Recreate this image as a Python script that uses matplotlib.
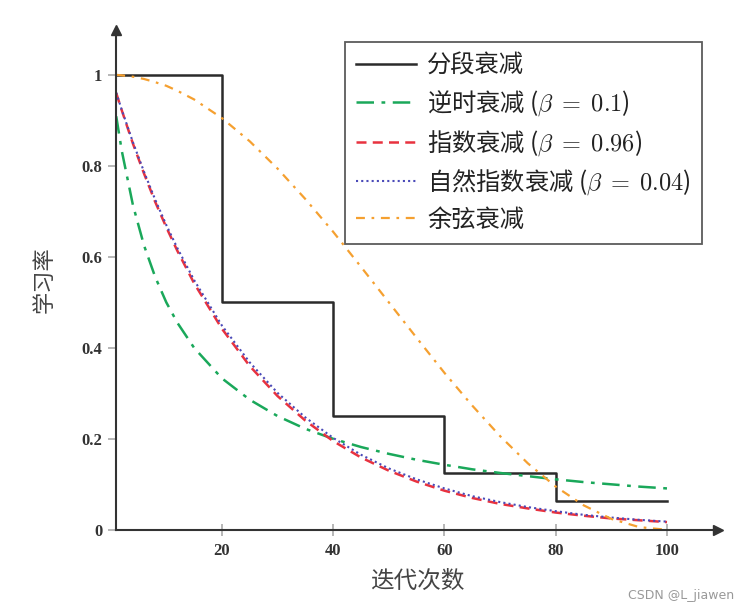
import numpy as np
import matplotlib.pyplot as plt

plt.rcParams['font.family'] = ['Noto Sans CJK SC', 'DejaVu Sans']
plt.rcParams['mathtext.fontset'] = 'cm'

# iteration points
t = [1, 2, 4, 6, 8, 10, 12, 15, 20, 25, 30, 35, 40, 45, 50,
     55, 60, 65, 70, 75, 80, 85, 90, 95, 100]

# piecewise decay
step_t = [1, 20, 40, 60, 80, 100]
step_lr = [1.0, 0.5, 0.25, 0.125, 0.0625, 0.0625]

# inverse time decay (beta = 0.1)
inv_lr = [0.909, 0.833, 0.714, 0.625, 0.556, 0.5, 0.455, 0.4, 0.333, 0.286,
          0.25, 0.222, 0.2, 0.182, 0.167, 0.154, 0.143, 0.133, 0.125, 0.118,
          0.111, 0.105, 0.1, 0.095, 0.091]

# exponential decay (beta = 0.96)
exp_lr = [0.96, 0.922, 0.849, 0.783, 0.721, 0.665, 0.613, 0.542, 0.442, 0.36,
          0.294, 0.24, 0.195, 0.159, 0.13, 0.106, 0.086, 0.07, 0.057, 0.047,
          0.038, 0.031, 0.025, 0.021, 0.017]

# natural exponential decay (beta = 0.04)
nat_lr = [0.961, 0.923, 0.852, 0.787, 0.726, 0.67, 0.619, 0.549, 0.449, 0.368,
          0.301, 0.247, 0.202, 0.165, 0.135, 0.111, 0.091, 0.074, 0.061, 0.05,
          0.041, 0.033, 0.027, 0.022, 0.018]

# cosine decay
cos_lr = [1.0, 0.999, 0.996, 0.991, 0.984, 0.976, 0.965, 0.946, 0.905, 0.854,
          0.794, 0.727, 0.655, 0.578, 0.5, 0.422, 0.345, 0.273, 0.206, 0.146,
          0.095, 0.054, 0.024, 0.006, 0.0]

xticks = [20, 40, 60, 80, 100]
yticks = [0, 0.2, 0.4, 0.6, 0.8, 1]
ytick_labels = ['0', '0.2', '0.4', '0.6', '0.8', '1']

fig = plt.figure(figsize=(7.45, 6.09), dpi=100)
ax = fig.add_axes([0.156, 0.13, 0.808, 0.821])

ax.plot(step_t, step_lr, drawstyle='steps-post', color='#2b2b2b', lw=1.8,
        label='分段衰减')
ax.plot(t, inv_lr, color='#1aa85a', lw=1.8, dashes=(7, 3, 1.5, 3),
        label=r'逆时衰减 ($\beta\;=\;0.1$)')
ax.plot(t, exp_lr, color='#e8323f', lw=1.8, dashes=(4, 2.5),
        label=r'指数衰减 ($\beta\;=\;0.96$)')
ax.plot(t, nat_lr, color='#4a4ab8', lw=1.5, dashes=(1, 1.5),
        label=r'自然指数衰减 ($\beta\;=\;0.04$)')
ax.plot(t, cos_lr, color='#f5a030', lw=1.6, dashes=(4, 3, 1.2, 3),
        label='余弦衰减')

ax.set_xlim(1, 109.2)
ax.set_ylim(0, 1.099)

for side in ['top', 'right']:
    ax.spines[side].set_visible(False)
for side in ['left', 'bottom']:
    ax.spines[side].set_color('#333333')
    ax.spines[side].set_linewidth(1.5)

# arrow heads on the axes
ax.plot(1, 0, '>', color='#333333', ms=7, transform=ax.transAxes, clip_on=False)
ax.plot(0, 1, '^', color='#333333', ms=7, transform=ax.transAxes, clip_on=False)

ax.set_xticks(xticks)
ax.set_yticks(yticks)
ax.set_yticklabels(ytick_labels)
ax.tick_params(axis='x', direction='inout', length=9, width=1.2, color='#aaaaaa',
               labelsize=12, labelcolor='#333333', pad=5)
ax.tick_params(axis='y', direction='out', length=6, width=1.2, color='#aaaaaa',
               labelsize=12, labelcolor='#333333', pad=4)
for lab in ax.get_xticklabels() + ax.get_yticklabels():
    lab.set_family('Liberation Serif')
    lab.set_fontweight('bold')

ax.set_xlabel('迭代次数', fontsize=17, color='#444444', labelpad=8)
ax.set_ylabel('学习率', fontsize=16, color='#444444')
ax.yaxis.set_label_coords(-0.10, 0.5)

leg = ax.legend(loc='upper right', bbox_to_anchor=(0.973, 0.976), borderaxespad=0,
                fancybox=False, fontsize=17.5, handlelength=2.5, labelspacing=0.4,
                borderpad=0.45, handletextpad=0.45)
leg.get_frame().set_edgecolor('#333333')
leg.get_frame().set_linewidth(1.3)
for txt in leg.get_texts():
    txt.set_color('#222222')

fig.text(0.985, 0.012, 'CSDN @L_jiawen', ha='right', va='bottom', fontsize=9,
         color='#999999', family='DejaVu Sans')

fig.savefig('out.png', dpi=100)
